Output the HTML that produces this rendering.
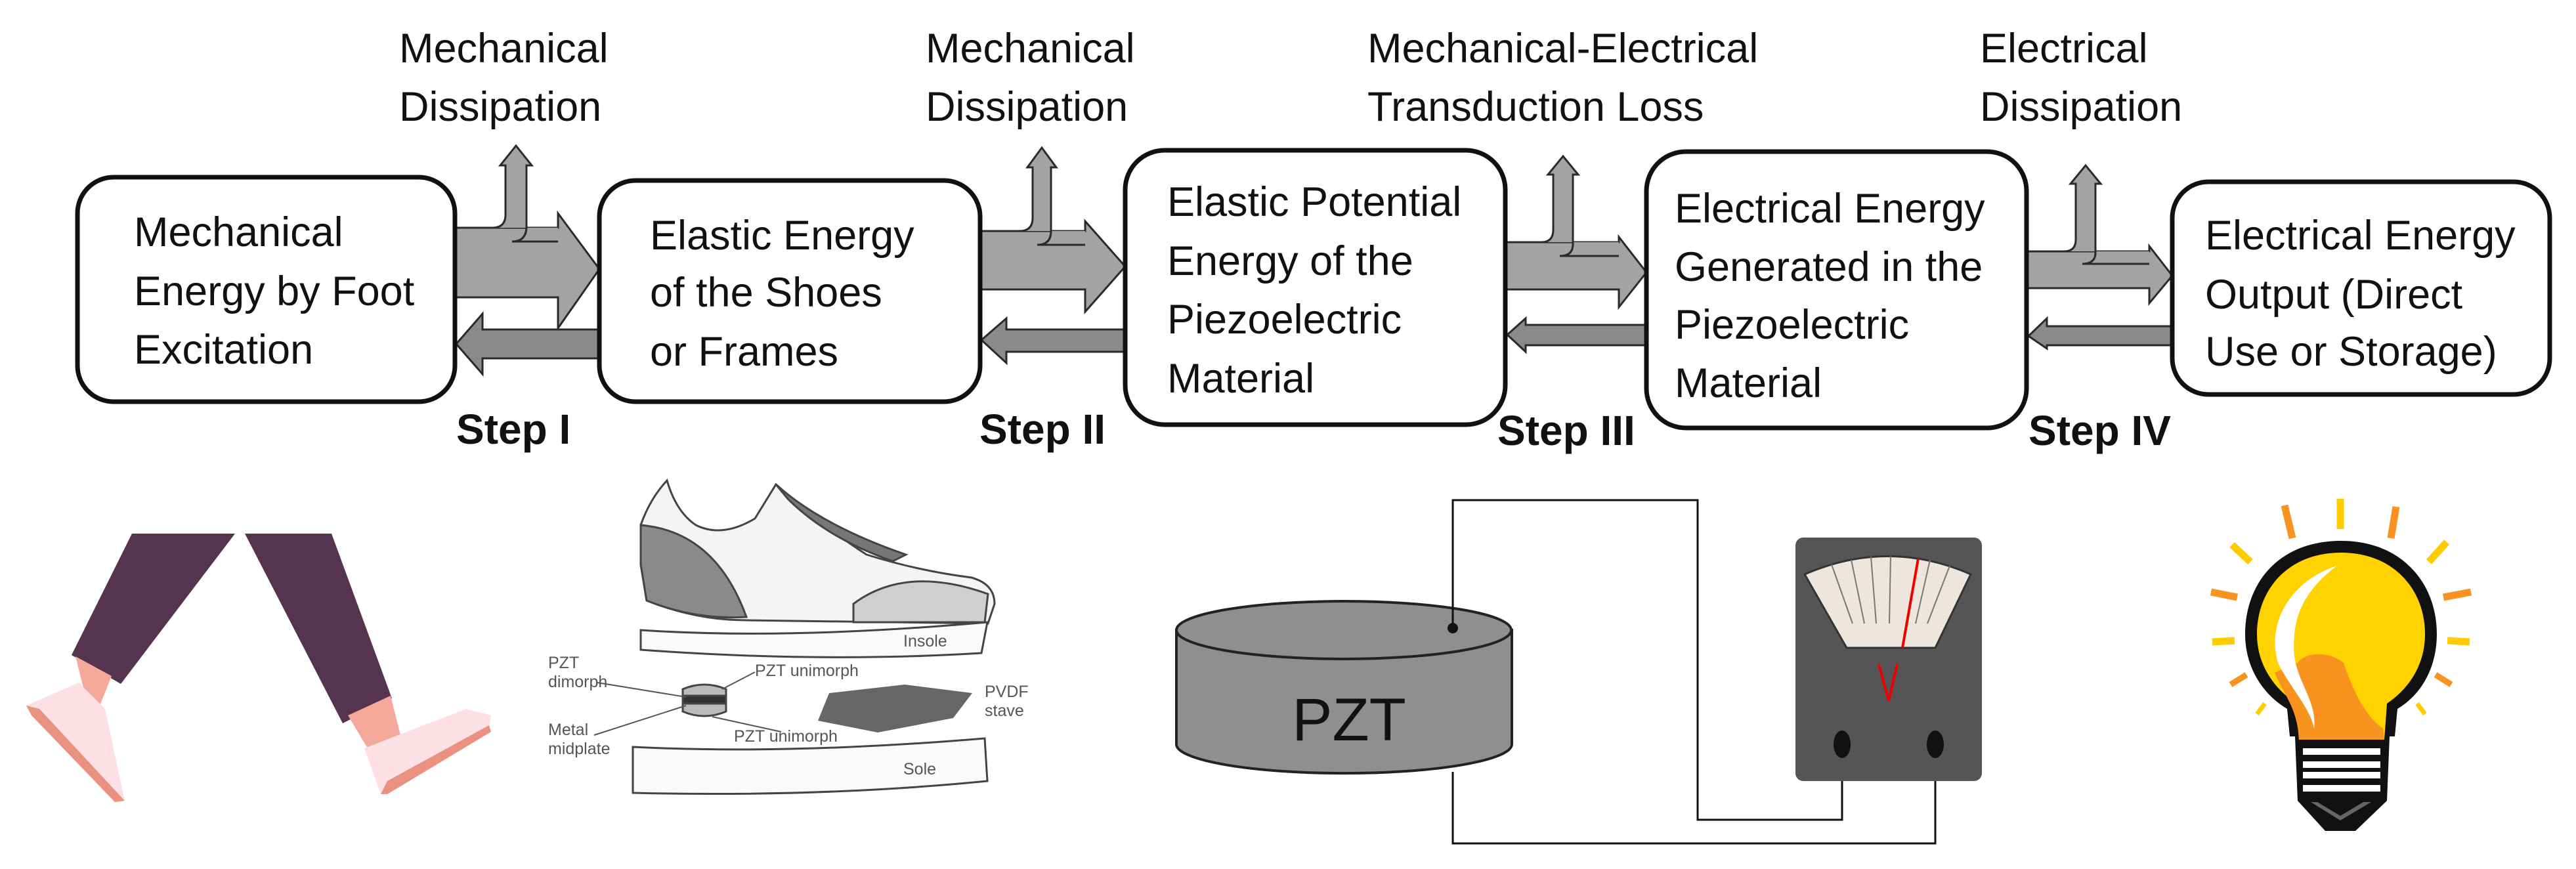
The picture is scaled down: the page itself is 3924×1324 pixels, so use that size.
<!DOCTYPE html>
<html><head><meta charset="utf-8"><style>
html,body{margin:0;padding:0;background:#fff;}
svg{display:block;}
.t{font-family:"Liberation Sans",Arial,sans-serif;font-size:63px;fill:#111;}
.s{font-family:"Liberation Sans",Arial,sans-serif;font-size:64px;font-weight:bold;fill:#111;}
.sm{font-family:"Liberation Sans Narrow","Liberation Sans",sans-serif;font-size:25px;fill:#555;}
</style></head><body>
<svg width="3924" height="1324" viewBox="0 0 3924 1324" xmlns="http://www.w3.org/2000/svg">
<rect width="3924" height="1324" fill="#fff"/>

<!-- top labels -->
<text class="t" x="608" y="95">Mechanical</text>
<text class="t" x="608" y="184">Dissipation</text>
<text class="t" x="1410" y="95">Mechanical</text>
<text class="t" x="1410" y="184">Dissipation</text>
<text class="t" x="2083" y="95">Mechanical-Electrical</text>
<text class="t" x="2083" y="184">Transduction Loss</text>
<text class="t" x="3016" y="95">Electrical</text>
<text class="t" x="3016" y="184">Dissipation</text>

<g stroke="#2a2a2a" stroke-width="3" stroke-linejoin="miter">
<!-- Arrow 1 -->
<path d="M695,347 L850,347 L850,325 L913,410 L850,500 L850,453 L695,453 Z" fill="#a3a3a3"/>
<path d="M750,347 Q770,347 770,327 L770,252 L762,252 L786,222 L810,252 L802,252 L802,368 L850,368 L850,347 Z" fill="#a3a3a3" stroke="none"/>
<path d="M695,347 L750,347 Q770,347 770,327 L770,252 L762,252 L786,222 L810,252 L802,252 L802,345 Q802,368 780,368 L850,368" fill="none"/>
<path d="M913,502 L735,502 L735,478 L695,524 L735,570 L735,546 L913,546 Z" fill="#8a8a8a"/>
<!-- Arrow 2 -->
<path d="M1493,352 L1653,352 L1653,337 L1714,406 L1653,475 L1653,441 L1493,441 Z" fill="#a3a3a3"/>
<path d="M1553,352 Q1573,352 1573,332 L1573,255 L1565,255 L1587,225 L1609,255 L1601,255 L1601,373 L1653,373 L1653,352 Z" fill="#a3a3a3" stroke="none"/>
<path d="M1493,352 L1553,352 Q1573,352 1573,332 L1573,255 L1565,255 L1587,225 L1609,255 L1601,255 L1601,352 Q1601,373 1580,373 L1653,373" fill="none"/>
<path d="M1714,502 L1533,502 L1533,485 L1495,518 L1533,553 L1533,536 L1714,536 Z" fill="#8a8a8a"/>
<!-- Arrow 3 -->
<path d="M2293,369 L2466,369 L2466,361 L2508,415 L2466,468 L2466,441 L2293,441 Z" fill="#a3a3a3"/>
<path d="M2348,369 Q2366,369 2366,350 L2366,266 L2358,266 L2381,238 L2404,266 L2396,266 L2396,390 L2466,390 L2466,369 Z" fill="#a3a3a3" stroke="none"/>
<path d="M2293,369 L2348,369 Q2366,369 2366,350 L2366,266 L2358,266 L2381,238 L2404,266 L2396,266 L2396,372 Q2396,390 2376,390 L2466,390" fill="none"/>
<path d="M2508,495 L2324,495 L2324,485 L2296,510 L2324,536 L2324,526 L2508,526 Z" fill="#8a8a8a"/>
<!-- Arrow 4 -->
<path d="M3087,383 L3274,383 L3274,375 L3309,420 L3274,462 L3274,439 L3087,439 Z" fill="#a3a3a3"/>
<path d="M3144,383 Q3162,383 3162,365 L3162,280 L3154,280 L3177,252 L3200,280 L3192,280 L3192,402 L3274,402 L3274,383 Z" fill="#a3a3a3" stroke="none"/>
<path d="M3087,383 L3144,383 Q3162,383 3162,365 L3162,280 L3154,280 L3177,252 L3200,280 L3192,280 L3192,385 Q3192,402 3172,402 L3274,402" fill="none"/>
<path d="M3309,497 L3118,497 L3118,485 L3090,512 L3118,531 L3118,526 L3309,526 Z" fill="#8a8a8a"/>
</g>

<!-- boxes -->
<g fill="#fff" stroke="#111" stroke-width="7">
<rect x="118" y="270" width="575" height="342" rx="55"/>
<rect x="913" y="275" width="580" height="337" rx="55"/>
<rect x="1714" y="229" width="579" height="418" rx="60"/>
<rect x="2508" y="231" width="579" height="421" rx="60"/>
<rect x="3309" y="277" width="575" height="324" rx="55"/>
</g>

<text class="t" x="204" y="375">Mechanical</text>
<text class="t" x="204" y="465">Energy by Foot</text>
<text class="t" x="204" y="554">Excitation</text>
<text class="t" x="990" y="380">Elastic Energy</text>
<text class="t" x="990" y="467">of the Shoes</text>
<text class="t" x="990" y="557">or Frames</text>
<text class="t" x="1778" y="329">Elastic Potential</text>
<text class="t" x="1778" y="419">Energy of the</text>
<text class="t" x="1778" y="508">Piezoelectric</text>
<text class="t" x="1778" y="598">Material</text>
<text class="t" x="2551" y="339">Electrical Energy</text>
<text class="t" x="2551" y="428">Generated in the</text>
<text class="t" x="2551" y="516">Piezoelectric</text>
<text class="t" x="2551" y="605">Material</text>
<text class="t" x="3359" y="380">Electrical Energy</text>
<text class="t" x="3359" y="470">Output (Direct</text>
<text class="t" x="3359" y="557">Use or Storage)</text>

<text class="s" x="695" y="676">Step I</text>
<text class="s" x="1492" y="676">Step II</text>
<text class="s" x="2281" y="678">Step III</text>
<text class="s" x="3090" y="678">Step IV</text>

<!-- legs -->
<path d="M201,813 L358,813 L184,1042 L109,998 Z" fill="#55344f"/>
<path d="M373,813 L505,813 L597,1064 L522,1102 Z" fill="#55344f"/>
<path d="M115,1000 L170,1030 L150,1080 L130,1060 Z" fill="#f4a99a"/>
<path d="M40,1075 L120,1040 L160,1080 L190,1220 L175,1220 Z" fill="#fde0e6"/>
<path d="M40,1075 L48,1090 L175,1222 L190,1220 L60,1080 Z" fill="#e8927f"/>
<path d="M530,1090 L595,1060 L610,1120 L560,1140 Z" fill="#f4a99a"/>
<path d="M555,1140 L710,1080 L748,1090 L745,1110 L590,1190 L580,1210 Z" fill="#fde0e6"/>
<path d="M745,1105 L748,1115 L590,1210 L580,1210 L590,1190 Z" fill="#e8927f"/>

<!-- shoe -->
<g stroke="#444" stroke-width="3">
<path d="M1016,732 Q1030,780 1060,800 Q1100,820 1150,790 L1182,738 Q1250,800 1320,845 Q1400,870 1480,880 Q1515,890 1515,920 L1505,950 L1137,945 Q1060,945 985,915 L976,860 L976,800 Q990,760 1016,732 Z" fill="#f4f4f4"/>
<path d="M976,800 Q1090,810 1137,940 Q1060,945 985,915 L976,860 Z" fill="#8a8a8a"/>
<path d="M1182,738 Q1250,800 1380,845 L1360,855 Q1260,820 1200,760 Z" fill="#777"/>
<path d="M1300,920 Q1380,860 1505,905 L1500,948 L1300,948 Z" fill="#cfcfcf"/>
<path d="M976,960 Q1200,975 1504,948 L1495,995 Q1250,1010 976,990 Z" fill="#fafafa"/>
<path d="M1040,1050 Q1073,1036 1106,1050 L1106,1084 Q1073,1098 1040,1084 Z" fill="#bbb"/>
<rect x="1040" y="1060" width="66" height="12" fill="#333"/>
<polygon points="1263,1056 1378,1043 1481,1056 1452,1094 1337,1116 1246,1098" fill="#666" stroke="none"/>
<path d="M964,1138 Q1200,1150 1500,1125 L1504,1190 Q1250,1215 964,1208 Z" fill="#fafafa"/>
</g>
<g stroke="#555" stroke-width="2" fill="none">
<path d="M910,1040 L1045,1062"/><path d="M1150,1024 L1100,1050"/><path d="M905,1120 L1045,1075"/><path d="M1190,1115 L1085,1092"/>
</g>
<text class="sm" x="1376" y="985">Insole</text>
<text class="sm" x="1376" y="1180">Sole</text>
<text class="sm" x="835" y="1018">PZT</text>
<text class="sm" x="835" y="1047">dimorph</text>
<text class="sm" x="1150" y="1030">PZT unimorph</text>
<text class="sm" x="835" y="1120">Metal</text>
<text class="sm" x="835" y="1149">midplate</text>
<text class="sm" x="1118" y="1130">PZT unimorph</text>
<text class="sm" x="1500" y="1062">PVDF</text>
<text class="sm" x="1500" y="1091">stave</text>

<!-- PZT circuit -->
<path d="M1792,960 L1792,1134 A255,44 0 0 0 2303,1134 L2303,960 Z" fill="#8f8f8f" stroke="#222" stroke-width="4"/>
<ellipse cx="2047" cy="960" rx="255" ry="44" fill="#8f8f8f" stroke="#222" stroke-width="4"/>
<text x="2055" y="1128" text-anchor="middle" font-family="Liberation Sans Narrow,Liberation Sans,sans-serif" font-size="92" fill="#111">PZT</text>
<circle cx="2213" cy="957" r="8" fill="#111"/>
<g fill="none" stroke="#111" stroke-width="3">
<path d="M2213,957 L2213,762 L2586,762 L2586,1249 L2806,1249 L2806,1134"/>
<path d="M2213,1176 L2213,1285 L2948,1285 L2948,1134"/>
</g>
<rect x="2735" y="819" width="284" height="371" rx="12" fill="#555"/>
<path d="M2749,875 Q2876,820 3002,875 L2948,987 L2813,987 Z" fill="#ece6dc" stroke="#333" stroke-width="3"/>
<g stroke="#777" stroke-width="2">
<path d="M2790,860 L2822,950"/><path d="M2820,853 L2840,950"/><path d="M2850,848 L2858,950"/><path d="M2880,847 L2878,950"/><path d="M2940,853 L2918,950"/><path d="M2970,862 L2936,950"/>
</g>
<path d="M2898,987 L2922,851" stroke="#e00" stroke-width="4"/>
<path d="M2862,1012 L2877,1068 L2890,1012" stroke="#e00" stroke-width="4" fill="none"/>
<ellipse cx="2806" cy="1134" rx="13" ry="21" fill="#111"/>
<ellipse cx="2948" cy="1134" rx="13" ry="21" fill="#111"/>

<!-- bulb -->
<g stroke-linecap="butt">
<path d="M3480,770 L3492,820" stroke="#f7931e" stroke-width="11"/>
<path d="M3565,760 L3565,806" stroke="#ffcc00" stroke-width="11"/>
<path d="M3650,772 L3642,820" stroke="#f7931e" stroke-width="11"/>
<path d="M3400,830 L3428,856" stroke="#ffcc00" stroke-width="11"/>
<path d="M3727,826 L3700,856" stroke="#ffcc00" stroke-width="11"/>
<path d="M3368,902 L3408,910" stroke="#f7931e" stroke-width="11"/>
<path d="M3722,910 L3764,902" stroke="#f7931e" stroke-width="11"/>
<path d="M3370,978 L3404,976" stroke="#ffcc00" stroke-width="11"/>
<path d="M3728,976 L3762,978" stroke="#ffcc00" stroke-width="11"/>
<path d="M3398,1043 L3422,1028" stroke="#f7931e" stroke-width="9"/>
<path d="M3710,1028 L3734,1043" stroke="#f7931e" stroke-width="9"/>
<path d="M3438,1088 L3450,1072" stroke="#ffcc00" stroke-width="7"/>
<path d="M3682,1072 L3694,1088" stroke="#ffcc00" stroke-width="7"/>
</g>
<path d="M3566,824 C3470,824 3420,890 3420,966 C3420,1020 3450,1060 3484,1080 L3488,1122 L3496,1122 L3500,1220 L3542,1266 L3588,1266 L3636,1220 L3640,1122 L3648,1122 L3652,1080 C3686,1060 3712,1020 3712,966 C3712,890 3660,824 3566,824 Z" fill="#111"/>
<path d="M3566,842 C3484,842 3438,900 3438,966 C3438,1015 3466,1050 3498,1072 L3502,1127 L3632,1127 L3636,1072 C3668,1050 3694,1015 3694,966 C3694,900 3648,842 3566,842 Z" fill="#ffd200"/>
<path d="M3465,1025 C3480,1060 3500,1080 3502,1127 L3632,1127 L3630,1110 C3600,1090 3580,1040 3570,1010 C3545,990 3510,995 3500,1010 Z" fill="#f7931e"/>
<path d="M3560,862 C3500,880 3450,940 3470,1010 C3490,1050 3520,1080 3525,1110 C3530,1070 3500,1040 3495,1000 C3490,940 3510,900 3560,862 Z" fill="#fff"/>
<g fill="#fff"><rect x="3508" y="1140" width="118" height="10"/><rect x="3508" y="1160" width="118" height="10"/><rect x="3508" y="1176" width="118" height="10"/><rect x="3508" y="1196" width="118" height="10"/></g>
<path d="M3520,1222 L3565,1250 L3612,1222 L3600,1222 L3565,1243 L3530,1222 Z" fill="#666"/>
</svg>
</body></html>
